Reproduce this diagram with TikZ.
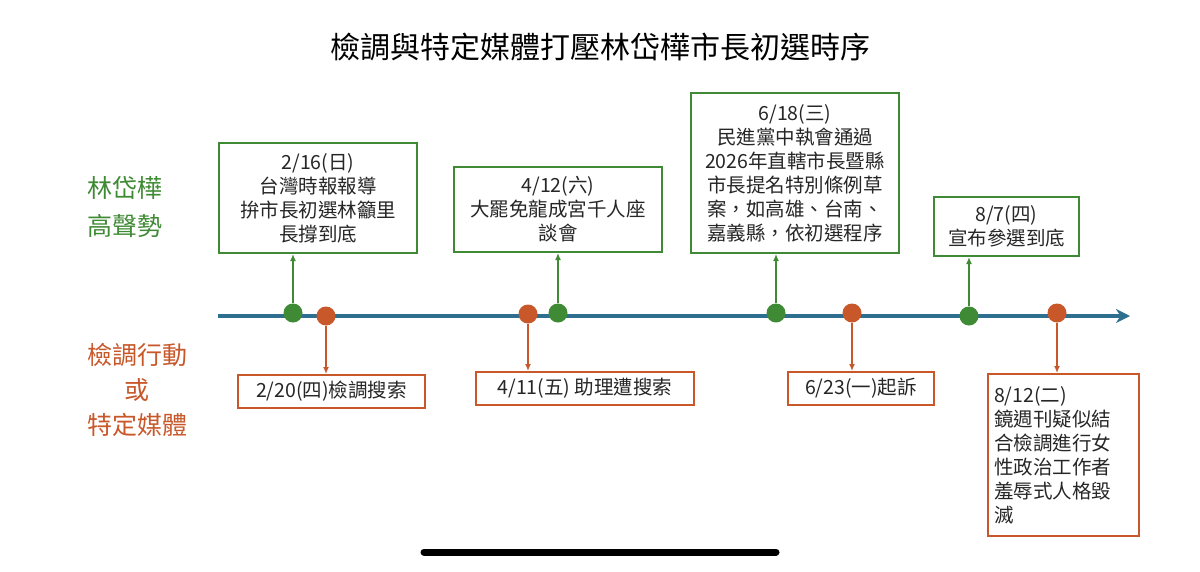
\documentclass[tikz,border=0pt]{standalone}
\usepackage{fontspec}
\setmainfont{Noto Sans CJK TC}
\usetikzlibrary{arrows.meta}
\definecolor{gr}{HTML}{3F8A34}
\definecolor{og}{HTML}{C8582A}
\definecolor{ax}{HTML}{2E6E8E}
\begin{document}
\begin{tikzpicture}[x=1pt,y=-1pt,
 gbox/.style={draw=gr,line width=2pt,align=center,inner sep=0pt,font=\fontsize{19.5}{24}\selectfont,text=black!85},
 obox/.style={draw=og,line width=2pt,inner sep=0pt,font=\fontsize{19.5}{24}\selectfont,text=black!85},
 gdot/.style={circle,fill=gr,minimum size=19pt,inner sep=0pt},
 odot/.style={circle,fill=og,minimum size=19pt,inner sep=0pt},
 garr/.style={gr,line width=1.6pt,-{Latex[length=7pt,width=6pt]}},
 oarr/.style={og,line width=1.6pt,-{Latex[length=7pt,width=6pt]}}]
\useasboundingbox[fill=white] (0,0) rectangle (1200,571);
\node (title) at (600,47) {\fontsize{30}{34}\selectfont 檢調與特定媒體打壓林岱樺市長初選時序};
\node[text=gr,align=center,font=\fontsize{25}{38}\selectfont] (lg) at (125,207) {林岱樺\\高聲勢};
\node[text=og,align=center,font=\fontsize{25}{35}\selectfont] (lo) at (137,390) {檢調行動\\或\\特定媒體};
\coordinate (a0) at (218,316); \coordinate (a1) at (1130,316);
\draw[ax,line width=3.4pt,-{Stealth[length=14pt,width=14pt]}] (a0) -- (a1);
% green boxes
\node[gbox,minimum width=198pt,minimum height=110pt] (g1) at (318,198) {2/16(日)\\台灣時報報導\\拚市長初選林籲里\\長撐到底};
\node[gbox,minimum width=208pt,minimum height=85pt] (g2) at (558,209.5) {4/12(六)\\大罷免龍成宮千人座\\談會};
\node[gbox,minimum width=208pt,minimum height=160pt] (g3) at (795,173) {6/18(三)\\民進黨中執會通過\\2026年直轄市長暨縣\\市長提名特別條例草\\案，如高雄、台南、\\嘉義縣，依初選程序};
\node[gbox,minimum width=145pt,minimum height=59pt] (g4) at (1006.5,226.5) {8/7(四)\\宣布參選到底};
% orange boxes
\node[obox,minimum width=187pt,minimum height=33pt] (o1) at (331.5,391.5) {2/20(四)檢調搜索};
\node[obox,minimum width=218pt,minimum height=33pt] (o2) at (585,388.5) {4/11(五) 助理遭搜索};
\node[obox,minimum width=146pt,minimum height=33pt] (o3) at (861,388.5) {6/23(一)起訴};
\node[obox,minimum width=151pt,minimum height=162pt,align=left,anchor=north west,text width=139pt,inner xsep=6pt,inner ysep=5pt] (o4) at (987,373) {8/12(二)\\鏡週刊疑似結\\合檢調進行女\\性政治工作者\\羞辱式人格毀\\滅};
% dots
\node[gdot] (d1) at (293,313) {}; \node[odot] (e1) at (326,316) {};
\node[odot] (e2) at (528,314) {}; \node[gdot] (d2) at (558,313) {};
\node[gdot] (d3) at (776,313) {}; \node[odot] (e3) at (852,313) {};
\node[gdot] (d4) at (969,316) {}; \node[odot] (e4) at (1057,313) {};
\draw[garr] (d1) -- (d1 |- g1.south);
\draw[garr] (d2) -- (d2 |- g2.south);
\draw[garr] (d3) -- (d3 |- g3.south);
\draw[garr] (d4) -- (d4 |- g4.south);
\draw[oarr] (e1) -- (e1 |- o1.north);
\draw[oarr] (e2) -- (e2 |- o2.north);
\draw[oarr] (e3) -- (e3 |- o3.north);
\draw[oarr] (e4) -- (e4 |- o4.north);
\coordinate (h0) at (424,552); \coordinate (h1) at (776,552);
\draw[black,line width=7pt,line cap=round] (h0) -- (h1);
\end{tikzpicture}
\end{document}
